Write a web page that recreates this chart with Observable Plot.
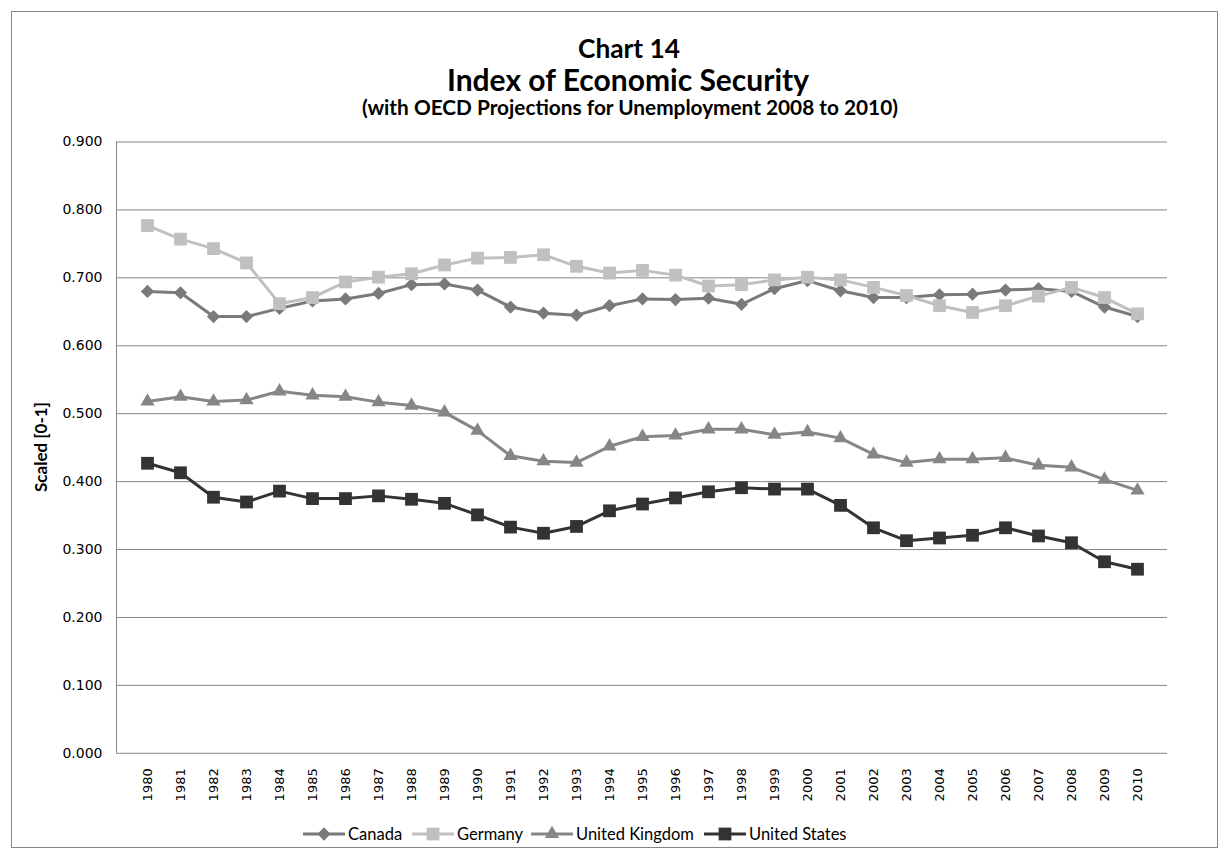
<!DOCTYPE html>
<html><head><meta charset="utf-8">
<script src="https://cdn.jsdelivr.net/npm/d3@7"></script>
<script src="https://cdn.jsdelivr.net/npm/@observablehq/plot@0.6"></script>
<style>
html,body{margin:0;padding:0;background:#fff;}
#wrap{position:relative;width:1230px;height:848px;overflow:hidden;background:#fff;}
#wrap svg{position:absolute;left:0;top:0;}
</style></head><body><div id="wrap"></div>
<script>
// ---- data ----
const years = [1980,1981,1982,1983,1984,1985,1986,1987,1988,1989,1990,1991,1992,1993,1994,1995,1996,1997,1998,1999,2000,2001,2002,2003,2004,2005,2006,2007,2008,2009,2010];
const canada  = [0.680,0.678,0.643,0.643,0.655,0.666,0.669,0.677,0.690,0.691,0.682,0.657,0.648,0.645,0.659,0.669,0.668,0.670,0.661,0.684,0.696,0.681,0.671,0.671,0.675,0.676,0.682,0.684,0.680,0.657,0.643];
const germany = [0.777,0.757,0.743,0.722,0.662,0.671,0.694,0.701,0.706,0.719,0.729,0.730,0.734,0.717,0.707,0.711,0.704,0.688,0.690,0.697,0.701,0.697,0.686,0.674,0.659,0.649,0.659,0.673,0.686,0.671,0.647];
const uk      = [0.518,0.525,0.518,0.520,0.533,0.527,0.525,0.517,0.512,0.502,0.475,0.438,0.430,0.428,0.452,0.466,0.468,0.477,0.477,0.469,0.473,0.464,0.440,0.428,0.433,0.433,0.435,0.424,0.421,0.403,0.387];
const us      = [0.427,0.413,0.377,0.370,0.386,0.375,0.375,0.379,0.374,0.368,0.351,0.333,0.324,0.334,0.357,0.367,0.376,0.385,0.391,0.389,0.389,0.365,0.332,0.313,0.317,0.321,0.332,0.320,0.310,0.282,0.271];
const countries = ["Canada","Germany","United Kingdom","United States"];
const yTicks = [0, 0.1, 0.2, 0.3, 0.4, 0.5, 0.6, 0.7, 0.8, 0.9];
const titleLines = ["Chart 14", "Index of Economic Security"];
const subtitle = "(with OECD Projections for Unemployment 2008 to 2010)";
const yLabel = "Scaled [0-1]";

// ---- styles ----
const colors = ["#7a7a7a","#c0c0c0","#868686","#333333"];
const diamond = {draw(ctx, size){const h = Math.sqrt(size/2); ctx.moveTo(0,-h); ctx.lineTo(h,0); ctx.lineTo(0,h); ctx.lineTo(-h,0); ctx.closePath();}};
const symbols = [diamond, "square", "triangle", "square"];
const radii = [5.3, 7.2, 5.3, 7.2];

const seriesVals = [canada, germany, uk, us];
const rows = [];
seriesVals.forEach((vals, i) => vals.forEach((v, j) => rows.push({year: String(years[j]), value: v, country: countries[i]})));

const W = 1230, H = 848;
const seriesMarks = [];
countries.forEach((c, i) => {
  const d = rows.filter(r => r.country === c);
  seriesMarks.push(Plot.line(d, {x: "year", y: "value", stroke: colors[i], strokeWidth: 3}));
  seriesMarks.push(Plot.dot(d, {x: "year", y: "value", symbol: symbols[i], r: radii[i], fill: colors[i], stroke: "none"}));
});

const axisFont = "DejaVu Sans";
const chart = Plot.plot({
  width: W, height: H,
  marginLeft: 116, marginRight: 63, marginTop: 141.5, marginBottom: H - 752.8,
  style: {fontFamily: axisFont, fontSize: "13px", background: "transparent", color: "#000"},
  x: {type: "point", domain: years.map(String), padding: 0.5},
  y: {domain: [0, 0.9]},
  marks: [
    Plot.ruleY(yTicks, {stroke: "#868686", strokeWidth: 1}),
    Plot.axisY({ticks: yTicks, tickSize: 0, tickPadding: 14, tickFormat: d3.format(".3f"), label: null, fontSize: 14, fontFamily: axisFont, fontWeight: "normal", fill: "#000"}),
    Plot.axisX({tickSize: 0, tickPadding: 15, tickRotate: -90, label: null, fontSize: 13, fontFamily: axisFont, fontWeight: "normal", fill: "#000"}),
    ...seriesMarks
  ]
});
const wrap = document.getElementById("wrap");
wrap.appendChild(chart);

// left axis line from the library's scales
const xs = chart.scale("x"), ys = chart.scale("y");
const x0 = Math.min(...xs.range), yTop = Math.min(...ys.range), yBot = Math.max(...ys.range);
d3.select(chart).append("line").attr("x1", x0 + 0.5).attr("x2", x0 + 0.5).attr("y1", yTop).attr("y2", yBot)
  .attr("stroke", "#868686").attr("stroke-width", 1);

// ---- overlay: frame, titles, y label, legend ----
const ov = d3.select(wrap).append("svg").attr("width", W).attr("height", H);
ov.append("rect").attr("x", 11.5).attr("y", 11.5).attr("width", 1206).attr("height", 836)
  .attr("fill", "none").attr("stroke", "#868686");

function fit(sel, target) {
  const w = sel.node().getComputedTextLength();
  const fs = parseFloat(sel.attr("font-size"));
  sel.attr("font-size", (fs * target / w).toFixed(2));
}
const tf = "Lato, 'Open Sans', sans-serif";
const t1 = ov.append("text").attr("x", 629).attr("y", 58).attr("text-anchor", "middle")
  .attr("font-family", tf).attr("font-weight", "bold").attr("font-size", 26).attr("fill", "#000").text(titleLines[0]);
fit(t1, 102);
const t2 = ov.append("text").attr("x", 628).attr("y", 91).attr("text-anchor", "middle")
  .attr("font-family", tf).attr("font-weight", "bold").attr("font-size", 26).attr("fill", "#000").text(titleLines[1]);
fit(t2, 362);
const t3 = ov.append("text").attr("x", 630).attr("y", 115).attr("text-anchor", "middle")
  .attr("font-family", tf).attr("font-weight", "bold").attr("font-size", 18).attr("fill", "#000").text(subtitle);
fit(t3, 536);

const yl = ov.append("text").attr("transform", "translate(47,447) rotate(-90)").attr("text-anchor", "middle")
  .attr("font-family", tf).attr("font-weight", "bold").attr("font-size", 14).attr("fill", "#000").text(yLabel);
fit(yl, 90);

// legend
const legX = [303, 412, 531, 704];
const legY = 834;
const lg = ov.append("g");
const probe = lg.append("text").attr("font-family", tf).attr("font-size", 18).text(countries[2]);
const legFs = 18 * 118 / probe.node().getComputedTextLength();
probe.remove();
countries.forEach((c, i) => {
  const x = legX[i];
  lg.append("line").attr("x1", x).attr("x2", x + 42).attr("y1", legY).attr("y2", legY)
    .attr("stroke", colors[i]).attr("stroke-width", 3);
  const sym = typeof symbols[i] === "string" ? ({square: d3.symbolSquare, triangle: d3.symbolTriangle})[symbols[i]] : symbols[i];
  lg.append("path").attr("d", d3.symbol(sym, Math.PI * radii[i] * radii[i])())
    .attr("transform", `translate(${x + 21},${legY})`).attr("fill", colors[i]);
  lg.append("text").attr("x", x + 45).attr("y", legY).attr("dy", "0.36em")
    .attr("font-family", tf).attr("font-size", legFs.toFixed(2)).attr("fill", "#000").text(c);
});
</script></body></html>
